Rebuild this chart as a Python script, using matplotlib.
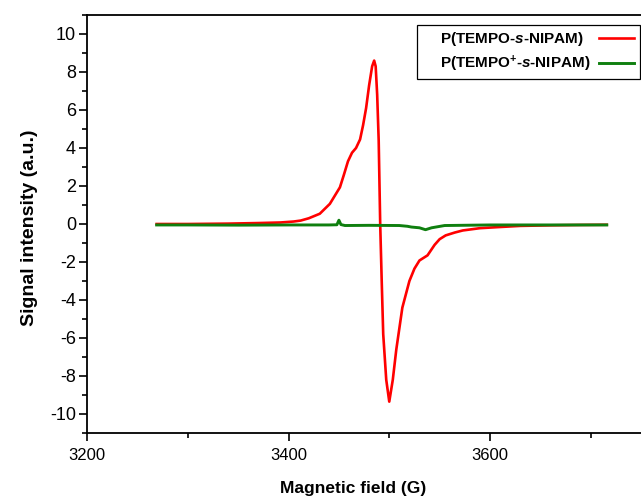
import matplotlib.pyplot as plt
from matplotlib.ticker import MultipleLocator
from matplotlib.offsetbox import HPacker, DrawingArea

# EPR spectra, values
red_field = [3269, 3300, 3340, 3370, 3392, 3405, 3412, 3420, 3431, 3441, 3451, 3455,
             3459, 3463, 3467, 3471, 3474, 3477, 3480, 3483, 3485, 3486.5, 3488,
             3489.5, 3491, 3492.5, 3494, 3497, 3500, 3503.5, 3507, 3513, 3520, 3525,
             3530, 3538, 3545, 3550, 3556, 3565, 3573, 3590, 3606, 3630, 3660, 3690, 3716]
red_signal = [0.0, 0.0, 0.02, 0.05, 0.08, 0.13, 0.18, 0.3, 0.54, 1.06, 1.93, 2.6,
              3.3, 3.75, 4.0, 4.45, 5.2, 6.1, 7.3, 8.3, 8.6, 8.3, 6.8,
              4.4, 0.0, -3.0, -5.8, -8.2, -9.35, -8.2, -6.6, -4.4, -3.0, -2.35,
              -1.92, -1.65, -1.1, -0.8, -0.6, -0.45, -0.34, -0.22, -0.17, -0.1, -0.07, -0.05, -0.04]

green_field = [3269, 3300, 3350, 3400, 3440, 3448, 3450, 3452, 3456, 3480, 3510,
               3518, 3522, 3530, 3536, 3542, 3555, 3600, 3650, 3716]
green_signal = [-0.05, -0.05, -0.06, -0.05, -0.05, -0.04, 0.2, -0.03, -0.08, -0.07, -0.08,
                -0.12, -0.16, -0.2, -0.3, -0.2, -0.08, -0.05, -0.05, -0.05]

labels = ['P(TEMPO-$\\boldsymbol{s}$-NIPAM)', 'P(TEMPO$^{\\mathbf{+}}$-$\\boldsymbol{s}$-NIPAM)']

plt.rcParams['font.family'] = ['Liberation Sans', 'DejaVu Sans']
plt.rcParams['axes.unicode_minus'] = False
plt.rcParams['mathtext.fontset'] = 'custom'
plt.rcParams['mathtext.rm'] = 'Liberation Sans:bold'
plt.rcParams['mathtext.it'] = 'Liberation Sans:bold:italic'
plt.rcParams['mathtext.bf'] = 'Liberation Sans:bold'
plt.rcParams['mathtext.bfit'] = 'Liberation Sans:bold:italic'

fig = plt.figure(figsize=(6.41, 5.0), dpi=100)
ax = fig.add_axes([0.136, 0.134, 0.864, 0.836])

ax.plot(red_field, red_signal, color='#ff0000', lw=1.9, label=labels[0])
ax.plot(green_field, green_signal, color='#0f7f0f', lw=2.1, label=labels[1])

ax.set_xlim(3200, 3750)
ax.set_ylim(-11, 11)
ax.xaxis.set_major_locator(MultipleLocator(200))
ax.xaxis.set_minor_locator(MultipleLocator(100))
ax.yaxis.set_major_locator(MultipleLocator(2))
ax.yaxis.set_minor_locator(MultipleLocator(1))
ax.tick_params(which='major', direction='out', length=6, width=1.2)
ax.tick_params(which='minor', direction='out', length=3.5, width=1.2)
ax.tick_params(axis='x', labelsize=12, pad=5)
ax.tick_params(axis='y', labelsize=13, pad=2)
ax.spines['right'].set_visible(False)
for s in ['left', 'bottom', 'top']:
    ax.spines[s].set_linewidth(1.3)

ax.set_xlabel('Magnetic field (G)', fontsize=12.5, fontweight='bold')
ax.xaxis.set_label_coords(0.48, -0.115)
ax.set_ylabel('Signal intensity (a.u.)', fontsize=14, fontweight='bold')
ax.yaxis.set_label_coords(-0.089, 0.49)

leg = ax.legend(loc='upper left', bbox_to_anchor=(417 / 641, 1 - 25 / 500),
                bbox_transform=fig.transFigure, borderaxespad=0, markerfirst=False,
                fancybox=False, edgecolor='black', framealpha=1, handlelength=2.3,
                prop={'weight': 'bold', 'size': 11}, borderpad=0.35, labelspacing=0.35)
leg.get_frame().set_linewidth(0.9)
# Origin-style legend: labels flush left, lines flush right
for col in leg._legend_handle_box.get_children():
    col.align = 'left'
    for row in col.get_children():
        txt, handle = row.get_children()
        inner = HPacker(pad=0, sep=0, children=[txt, handle], align='baseline',
                        mode='expand', width=194)
        row.sep = 0
        row._children = [DrawingArea(13, 0), inner]

fig.savefig('out.png', dpi=100)
